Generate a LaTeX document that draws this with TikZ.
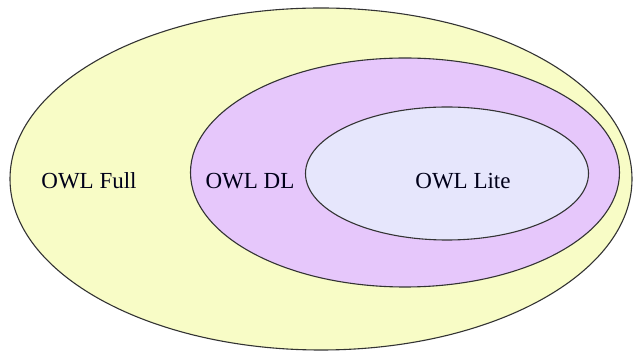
\documentclass[tikz,border=0pt]{standalone}
\usepackage{fontspec}
\setmainfont{Liberation Serif}
\usetikzlibrary{shapes.geometric}

\definecolor{fullyellow}{HTML}{F8FCC6}
\definecolor{dlpurple}{HTML}{E6C7FB}
\definecolor{litelilac}{HTML}{E6E6FC}

\tikzset{
  species/.style={ellipse,draw=black!80,line width=1.1pt,inner sep=0pt},
  lang/.style={inner sep=0pt,font=\fontsize{23}{27}\selectfont,text=black!90!blue}
}

\begin{document}
\begin{tikzpicture}[x=1pt,y=-1pt]
  \useasboundingbox (0,0) rectangle (633,352);
  \node[species,fill=fullyellow,minimum width=622pt,minimum height=342pt] (full) at (321,179) {};
  \node[species,fill=dlpurple,minimum width=429pt,minimum height=229pt] (dl) at (405,172.5) {};
  \node[species,fill=litelilac,minimum width=283pt,minimum height=133pt] (lite) at (447,173.5) {};
  \node[lang] (fulltxt) at (89,181) {OWL Full};
  \node[lang] (dltxt) at (250,181) {OWL DL};
  \node[lang] (litetxt) at (463,181) {OWL Lite};
\end{tikzpicture}
\end{document}
